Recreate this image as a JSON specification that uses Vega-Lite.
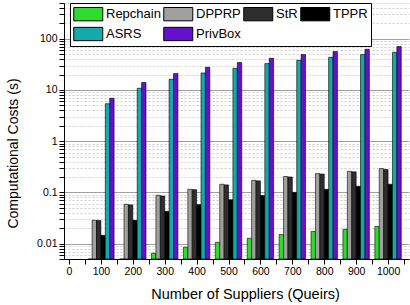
{
  "$schema": "https://vega.github.io/schema/vega-lite/v6.json",
  "width": 345,
  "height": 256,
  "autosize": {"type": "none"},
  "padding": {"left": 64, "top": 3, "right": 1, "bottom": 46},
  "background": "white",
  "config": {
    "view": {"stroke": null},
    "font": "Liberation Sans",
    "axis": {
      "labelFont": "Liberation Sans",
      "titleFont": "Liberation Sans",
      "labelColor": "black",
      "titleColor": "black",
      "domainColor": "black",
      "tickColor": "black",
      "titleFontWeight": "normal"
    }
  },
  "data": {
    "values": [
      {"suppliers": 100, "scheme": "Repchain", "cost": 0.0022},
      {"suppliers": 200, "scheme": "Repchain", "cost": 0.0043},
      {"suppliers": 300, "scheme": "Repchain", "cost": 0.0065},
      {"suppliers": 400, "scheme": "Repchain", "cost": 0.0085},
      {"suppliers": 500, "scheme": "Repchain", "cost": 0.0106},
      {"suppliers": 600, "scheme": "Repchain", "cost": 0.0127},
      {"suppliers": 700, "scheme": "Repchain", "cost": 0.015},
      {"suppliers": 800, "scheme": "Repchain", "cost": 0.0172},
      {"suppliers": 900, "scheme": "Repchain", "cost": 0.019},
      {"suppliers": 1000, "scheme": "Repchain", "cost": 0.0215},
      {"suppliers": 100, "scheme": "DPPRP", "cost": 0.0285},
      {"suppliers": 200, "scheme": "DPPRP", "cost": 0.0586},
      {"suppliers": 300, "scheme": "DPPRP", "cost": 0.0878},
      {"suppliers": 400, "scheme": "DPPRP", "cost": 0.115},
      {"suppliers": 500, "scheme": "DPPRP", "cost": 0.144},
      {"suppliers": 600, "scheme": "DPPRP", "cost": 0.172},
      {"suppliers": 700, "scheme": "DPPRP", "cost": 0.204},
      {"suppliers": 800, "scheme": "DPPRP", "cost": 0.233},
      {"suppliers": 900, "scheme": "DPPRP", "cost": 0.258},
      {"suppliers": 1000, "scheme": "DPPRP", "cost": 0.292},
      {"suppliers": 100, "scheme": "StR", "cost": 0.0283},
      {"suppliers": 200, "scheme": "StR", "cost": 0.057},
      {"suppliers": 300, "scheme": "StR", "cost": 0.085},
      {"suppliers": 400, "scheme": "StR", "cost": 0.113},
      {"suppliers": 500, "scheme": "StR", "cost": 0.14},
      {"suppliers": 600, "scheme": "StR", "cost": 0.168},
      {"suppliers": 700, "scheme": "StR", "cost": 0.2},
      {"suppliers": 800, "scheme": "StR", "cost": 0.228},
      {"suppliers": 900, "scheme": "StR", "cost": 0.252},
      {"suppliers": 1000, "scheme": "StR", "cost": 0.28},
      {"suppliers": 100, "scheme": "TPPR", "cost": 0.0145},
      {"suppliers": 200, "scheme": "TPPR", "cost": 0.0285},
      {"suppliers": 300, "scheme": "TPPR", "cost": 0.0427},
      {"suppliers": 400, "scheme": "TPPR", "cost": 0.0578},
      {"suppliers": 500, "scheme": "TPPR", "cost": 0.072},
      {"suppliers": 600, "scheme": "TPPR", "cost": 0.0866},
      {"suppliers": 700, "scheme": "TPPR", "cost": 0.1},
      {"suppliers": 800, "scheme": "TPPR", "cost": 0.115},
      {"suppliers": 900, "scheme": "TPPR", "cost": 0.1316},
      {"suppliers": 1000, "scheme": "TPPR", "cost": 0.144},
      {"suppliers": 100, "scheme": "ASRS", "cost": 5.4},
      {"suppliers": 200, "scheme": "ASRS", "cost": 10.8},
      {"suppliers": 300, "scheme": "ASRS", "cost": 16.2},
      {"suppliers": 400, "scheme": "ASRS", "cost": 21.5},
      {"suppliers": 500, "scheme": "ASRS", "cost": 26.5},
      {"suppliers": 600, "scheme": "ASRS", "cost": 32.8},
      {"suppliers": 700, "scheme": "ASRS", "cost": 38.0},
      {"suppliers": 800, "scheme": "ASRS", "cost": 43.5},
      {"suppliers": 900, "scheme": "ASRS", "cost": 49.1},
      {"suppliers": 1000, "scheme": "ASRS", "cost": 54.5},
      {"suppliers": 100, "scheme": "PrivBox", "cost": 6.9},
      {"suppliers": 200, "scheme": "PrivBox", "cost": 14.0},
      {"suppliers": 300, "scheme": "PrivBox", "cost": 20.9},
      {"suppliers": 400, "scheme": "PrivBox", "cost": 27.7},
      {"suppliers": 500, "scheme": "PrivBox", "cost": 34.3},
      {"suppliers": 600, "scheme": "PrivBox", "cost": 41.6},
      {"suppliers": 700, "scheme": "PrivBox", "cost": 49.1},
      {"suppliers": 800, "scheme": "PrivBox", "cost": 56.2},
      {"suppliers": 900, "scheme": "PrivBox", "cost": 62.4},
      {"suppliers": 1000, "scheme": "PrivBox", "cost": 70.4}
    ]
  },
  "encoding": {
    "x": {
      "field": "suppliers",
      "type": "quantitative",
      "scale": {"domain": [0, 1050]},
      "axis": {
        "values": [0, 50, 100, 150, 200, 250, 300, 350, 400, 450, 500, 550, 600, 650, 700, 750, 800, 850, 900, 950, 1000, 1050],
        "format": "d",
        "labelExpr": "datum.value % 100 == 0 ? datum.label : ''",
        "grid": false,
        "tickSize": 5,
        "labelPadding": 2,
        "labelFontSize": 10.5,
        "title": "Number of Suppliers (Queirs)",
        "titleFontSize": 14.5,
        "titleX": 181,
        "titleY": 35,
        "titleBaseline": "middle"
      }
    },
    "y": {
      "field": "cost",
      "type": "quantitative",
      "stack": null,
      "scale": {"type": "log", "domain": [0.005, 500], "clamp": true},
      "axis": {
        "values": [0.005, 0.006, 0.007, 0.008, 0.009, 0.01, 0.02, 0.03, 0.04, 0.05, 0.06, 0.07, 0.08, 0.09, 0.1, 0.2, 0.3, 0.4, 0.5, 0.6, 0.7, 0.8, 0.9, 1, 2, 3, 4, 5, 6, 7, 8, 9, 10, 20, 30, 40, 50, 60, 70, 80, 90, 100, 200, 300, 400, 500],
        "format": "~g",
        "labelExpr": "abs(log(datum.value)/LN10 - round(log(datum.value)/LN10)) < 0.001 ? datum.label : ''",
        "grid": true,
        "gridColor": {"condition": {"test": "abs(log(datum.value)/LN10 - round(log(datum.value)/LN10)) < 0.001", "value": "#a0a0a0"}, "value": "#cfcfcf"},
        "gridDash": {"condition": {"test": "abs(log(datum.value)/LN10 - round(log(datum.value)/LN10)) < 0.001", "value": []}, "value": [2, 2]},
        "gridWidth": {"condition": {"test": "abs(log(datum.value)/LN10 - round(log(datum.value)/LN10)) < 0.001", "value": 1.2}, "value": 1},
        "tickSize": 5,
        "labelPadding": 2,
        "labelFontSize": 10.5,
        "title": "Computational Costs (s)",
        "titleFontSize": 14,
        "titleX": -44,
        "titleY": 150
      }
    },
    "fill": {
      "field": "scheme",
      "type": "nominal",
      "scale": {
        "domain": ["Repchain", "DPPRP", "StR", "TPPR", "ASRS", "PrivBox"],
        "range": ["#2edc2e", "#a0a0a0", "#2e2e2e", "#000000", "#12aaaa", "#6412cc"]
      },
      "legend": {
        "orient": "none",
        "direction": "horizontal",
        "legendX": 6,
        "legendY": 0,
        "columns": 4,
        "title": null,
        "symbolType": "M-1,-0.92H3V0.92H-1Z",
        "symbolSize": 210.25,
        "symbolStrokeColor": "black",
        "symbolStrokeWidth": 1,
        "symbolOpacity": 1,
        "labelFont": "Liberation Sans",
        "labelFontSize": 13,
        "labelColor": "black",
        "labelOffset": 17,
        "columnPadding": 0,
        "rowPadding": 2,
        "padding": 3,
        "strokeColor": "black",
        "fillColor": "white"
      }
    }
  },
  "layer": [
    {"transform": [{"filter": {"field": "scheme", "equal": "Repchain"}}], "mark": {"type": "bar", "width": 4.4, "xOffset": -11, "stroke": "black", "strokeWidth": 0.6}},
    {"transform": [{"filter": {"field": "scheme", "equal": "DPPRP"}}], "mark": {"type": "bar", "width": 4.4, "xOffset": -6.6, "stroke": "black", "strokeWidth": 0.6}},
    {"transform": [{"filter": {"field": "scheme", "equal": "StR"}}], "mark": {"type": "bar", "width": 4.4, "xOffset": -2.2, "stroke": "black", "strokeWidth": 0.6}},
    {"transform": [{"filter": {"field": "scheme", "equal": "TPPR"}}], "mark": {"type": "bar", "width": 4.4, "xOffset": 2.2, "stroke": "black", "strokeWidth": 0.6}},
    {"transform": [{"filter": {"field": "scheme", "equal": "ASRS"}}], "mark": {"type": "bar", "width": 4.4, "xOffset": 6.6, "stroke": "black", "strokeWidth": 0.6}},
    {"transform": [{"filter": {"field": "scheme", "equal": "PrivBox"}}], "mark": {"type": "bar", "width": 4.4, "xOffset": 11, "stroke": "black", "strokeWidth": 0.6}}
  ]
}
